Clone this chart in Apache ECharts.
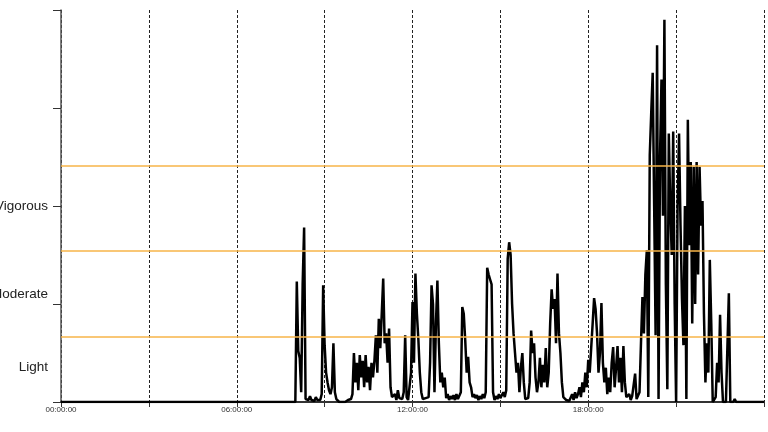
<!DOCTYPE html>
<html>
<head>
<meta charset="utf-8">
<script src="https://cdn.jsdelivr.net/npm/echarts@6/dist/echarts.min.js"></script>
<style>
html,body{margin:0;padding:0;background:#fff;}
#chart{width:768px;height:432px;}
</style>
</head>
<body>
<div id="chart"></div>
<script>
// ---- data ----
const dayStartMin = 0;
const dayEndMin = 1440;
const epochStartMin = 480;   // 08:00
const epochMinutes = 3;
const counts = [
  0,123,52,45,10,120,178,3,5,2,
  6,2,4,1,5,2,4,2,8,119,
  58,30,20,12,8,15,60,10,3,2,
  0,2,0,1,0,0,2,1,3,8,
  50,20,40,12,48,25,42,15,48,20,
  36,12,40,25,42,68,30,85,55,90,
  126,60,70,40,75,15,5,3,8,2,
  12,4,6,3,10,68,5,2,4,30,
  102,40,131,90,64,30,10,3,2,4,
  2,5,40,119,100,10,80,124,60,20,
  30,15,25,4,8,2,6,3,7,2,
  8,3,5,10,97,90,63,30,46,20,
  15,5,8,4,7,2,6,3,8,4,
  10,137,130,125,120,10,2,6,3,8,
  4,2,10,5,12,146,163,150,100,70,
  50,30,40,10,35,50,20,3,2,4,
  20,73,50,60,25,10,20,45,15,38,
  20,55,15,30,80,115,95,105,60,131,
  70,50,20,5,3,2,4,1,3,8,
  2,10,4,8,15,5,20,10,30,15,
  43,30,55,80,106,95,70,30,50,101,
  40,20,35,8,25,10,40,56,15,35,
  57,20,45,10,57,20,5,3,8,2,
  6,4,29,3,5,10,60,107,70,130,
  155,5,252,295,336,200,68,364,3,250,
  329,190,390,120,13,274,200,150,276,100,
  0,200,274,180,105,58,200,3,288,160,
  245,80,240,100,245,130,240,180,205,90,
  20,60,30,145,80,0,0,5,40,20,
  89,30,0,0,0,0,111,0,0,0,
  3
];
const cutPoints = [67, 154, 241];
const levelLabels = ['Light', 'Moderate', 'Vigorous'];
const levelLabelValues = [35, 110, 200];
const xTickLabels = ['00:00:00', '06:00:00', '12:00:00', '18:00:00'];

// ---- build series ----
const seriesData = [[dayStartMin, 0]];
counts.forEach((v, i) => seriesData.push([epochStartMin + i * epochMinutes, v]));
seriesData.push([epochStartMin + counts.length * epochMinutes, 0]);
seriesData.push([dayEndMin, 0]);

const chart = echarts.init(document.getElementById('chart'), null, {renderer: 'canvas'});
chart.setOption({
  animation: false,
  backgroundColor: '#ffffff',
  grid: {left: 61, right: 4, top: 10, bottom: 30, containLabel: false, outerBoundsMode: 'none'},
  xAxis: {
    type: 'value',
    min: 0, max: 1440, interval: 180,
    axisLine: {show: true, lineStyle: {color: '#333', width: 2}},
    axisTick: {show: true, length: 5, lineStyle: {color: '#333', width: 1}},
    axisLabel: {
      show: true, margin: 4, fontSize: 8, color: '#333',
      fontFamily: 'Liberation Sans, Arial, sans-serif',
      formatter: (v) => (v % 360 === 0 && v < 1440) ? xTickLabels[v / 360] : ''
    },
    splitLine: {show: true, lineStyle: {color: '#222', width: 1, type: [3, 2]}}
  },
  yAxis: {
    type: 'value',
    min: 0, max: 400, interval: 100,
    axisLine: {show: true, lineStyle: {color: '#555', width: 1.5}},
    axisTick: {show: true, length: 8, lineStyle: {color: '#333', width: 1}},
    axisLabel: {
      show: true, margin: 13, fontSize: 13.5, color: '#222',
      fontFamily: 'Liberation Sans, Arial, sans-serif',
      customValues: levelLabelValues,
      formatter: (v) => {
        const k = levelLabelValues.indexOf(v);
        return k >= 0 ? levelLabels[k] : '';
      }
    },
    splitLine: {show: false}
  },
  series: [{
    type: 'line',
    data: seriesData,
    symbol: 'none',
    lineStyle: {color: '#000', width: 2.5},
    z: 3,
    markLine: {
      silent: true,
      symbol: 'none',
      label: {show: false},
      lineStyle: {color: '#f7b548', width: 1.5, type: 'solid'},
      data: cutPoints.map(c => ({yAxis: c}))
    }
  }]
});
</script>
</body>
</html>
